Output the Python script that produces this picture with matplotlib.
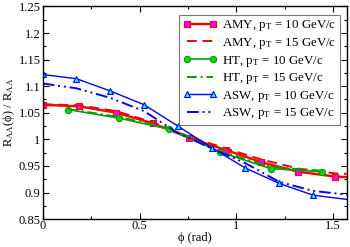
import matplotlib
matplotlib.use("Agg")
import matplotlib.pyplot as plt
from matplotlib.ticker import MultipleLocator, FixedFormatter, FixedLocator
import numpy as np

# AMY (squares)
amy_phi = [0.0, 0.19, 0.38, 0.57, 0.755, 0.945, 1.13, 1.32, 1.51, 1.5708]
amy_10 = [1.065, 1.062, 1.050, 1.030, 1.003, 0.980, 0.957, 0.939, 0.930, 0.929]
amy_15 = [1.066, 1.064, 1.053, 1.032, 1.005, 0.983, 0.962, 0.945, 0.936, 0.935]

# HT (circles)
ht_phi = [0.131, 0.393, 0.654, 0.916, 1.178, 1.440]
ht_10 = [1.056, 1.040, 1.019, 0.976, 0.945, 0.939]
ht_15 = [1.057, 1.042, 1.021, 0.978, 0.948, 0.941]

# ASW (triangles)
asw_phi = [0.0, 0.1745, 0.349, 0.524, 0.698, 0.873, 1.047, 1.222, 1.396, 1.5708]
asw_10 = [1.122, 1.114, 1.091, 1.065, 1.025, 0.984, 0.946, 0.917, 0.895, 0.887]
asw_15 = [1.105, 1.096, 1.078, 1.053, 1.012, 0.983, 0.955, 0.920, 0.903, 0.896]

xticks = [0, 0.5, 1, 1.5]
xtick_labels = ["0", "0.5", "1", "1.5"]
yticks = [0.85, 0.9, 0.95, 1.0, 1.05, 1.1, 1.15, 1.2, 1.25]
ytick_labels = ["0.85", "0.9", "0.95", "1", "1.05", "1.1", "1.15", "1.2", "1.25"]

plt.rcParams["font.family"] = ["Liberation Serif", "DejaVu Serif"]
plt.rcParams["mathtext.fontset"] = "stix"

fig = plt.figure(figsize=(3.5, 2.47), dpi=100)
ax = fig.add_axes([0.122, 0.113, 0.869, 0.861])

red, green, blue = "#ff0000", "#00a000", "#0000ff"
ax.plot(amy_phi, amy_10, "-", color=red, lw=1.7, marker="s", ms=4.5,
        mfc="#ff00ff", mec=red, mew=0.8, markevery=list(range(9)),
        label=r"AMY, p$_\mathrm{T}$ = 10 GeV/c")
ax.plot(amy_phi, amy_15, "--", color=red, lw=1.4, dashes=(5, 3),
        label=r"AMY, p$_\mathrm{T}$ = 15 GeV/c")
ax.plot(ht_phi, ht_10, "-", color=green, lw=1.2, marker="o", ms=4.5,
        mfc="#00e000", mec=green, mew=0.8,
        label=r"HT, p$_\mathrm{T}$ = 10 GeV/c")
ax.plot(ht_phi, ht_15, color=green, lw=1.4, dashes=(5, 2, 1, 2),
        label=r"HT, p$_\mathrm{T}$ = 15 GeV/c")
ax.plot(asw_phi, asw_10, "-", color=blue, lw=1.0, marker="^", ms=5,
        mfc="#00ffff", mec=blue, mew=0.8, markevery=list(range(9)),
        label=r"ASW, p$_\mathrm{T}$ = 10 GeV/c")
ax.plot(asw_phi, asw_15, color=blue, lw=1.4, dashes=(6, 2, 1, 2, 1, 2),
        label=r"ASW, p$_\mathrm{T}$ = 15 GeV/c")

ax.set_xlim(0, np.pi / 2)
ax.set_ylim(0.85, 1.25)
ax.xaxis.set_major_locator(FixedLocator(xticks))
ax.xaxis.set_major_formatter(FixedFormatter(xtick_labels))
ax.xaxis.set_minor_locator(MultipleLocator(0.25))
ax.yaxis.set_major_locator(FixedLocator(yticks))
ax.yaxis.set_major_formatter(FixedFormatter(ytick_labels))
ax.yaxis.set_minor_locator(MultipleLocator(0.025))
ax.tick_params(which="both", direction="in", top=True, right=True,
               labelsize=9, width=0.8)
ax.tick_params(axis="x", pad=1)
ax.tick_params(axis="y", pad=1.5)
ax.tick_params(which="major", length=4)
ax.tick_params(which="minor", length=2.5)
for s in ax.spines.values():
    s.set_linewidth(1.0)

ax.set_xlabel("\u03d5 (rad)", fontsize=9, labelpad=0)
ax.set_ylabel("R$_\\mathrm{AA}$(\u03d5) / R$_\\mathrm{AA}$", fontsize=9, labelpad=1.5)

leg = ax.legend(loc="upper right", bbox_to_anchor=(0.977, 0.962), fontsize=9.3,
                frameon=True, fancybox=False, handlelength=2.6, numpoints=2,
                handletextpad=0.4, borderpad=0.3, labelspacing=0.2,
                borderaxespad=0)
leg.get_frame().set_edgecolor("#555555")
leg.get_frame().set_linewidth(0.8)

fig.savefig("out.png", dpi=100)
